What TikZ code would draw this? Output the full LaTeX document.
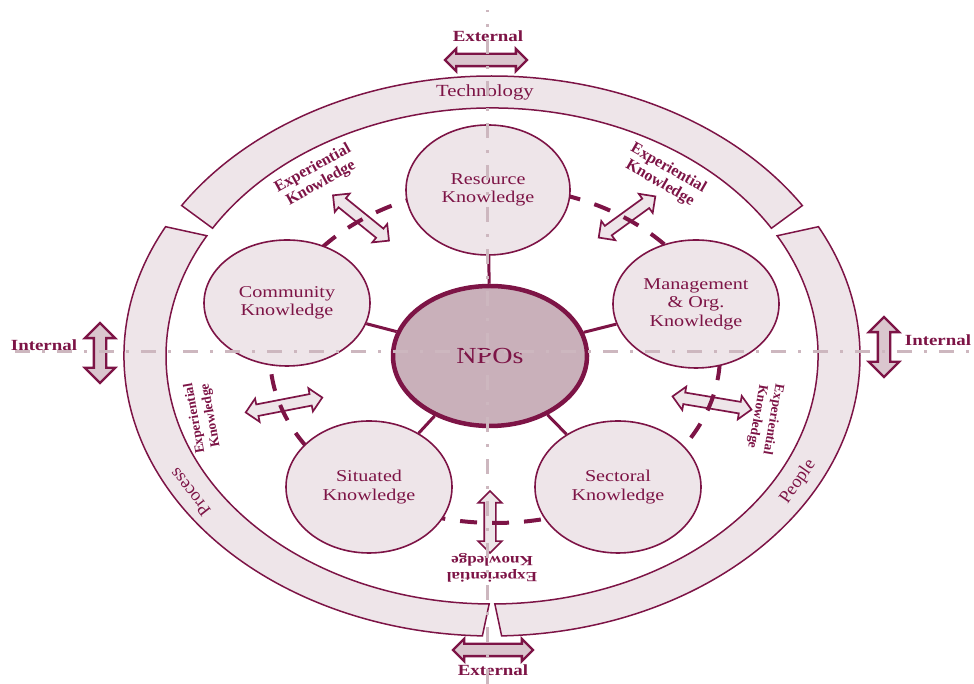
\documentclass[tikz,border=0pt]{standalone}
\usepackage{fontspec}
\setmainfont{Liberation Serif}[FakeStretch=1.22]
\newfontfamily\plainserif{Liberation Serif}
\usetikzlibrary{shapes.geometric,shapes.arrows,calc}
\definecolor{npored}{RGB}{125,20,70}
\definecolor{ringfill}{RGB}{238,229,233}
\definecolor{npofill}{RGB}{201,176,186}
\definecolor{axisgray}{RGB}{205,183,191}
\definecolor{arrowfill}{RGB}{218,198,206}
\begin{document}
\begin{tikzpicture}[x=1pt,y=1pt,
    knode/.style={ellipse, draw=npored, line width=1.6pt, fill=ringfill, text=npored, align=center,
      inner sep=0pt, minimum width=166, minimum height=130, font=\fontsize{16.5}{18.5}\selectfont},
    band/.style={draw=npored, line width=1.5pt, fill=ringfill},
    link/.style={npored, line width=3pt},
    xarrow/.style={double arrow, draw=npored, line width=1.7pt, fill=ringfill,
      inner xsep=0pt, inner ysep=5pt, double arrow head extend=6pt},
    bigarrow/.style={double arrow, draw=npored, line width=2.3pt, fill=arrowfill,
      inner xsep=0pt, inner ysep=5pt},
    explabel/.style={text=npored, align=center, font=\plainserif\fontsize{16}{17}\selectfont\bfseries},
    sidelabel/.style={text=npored, font=\fontsize{15.5}{18}\selectfont\bfseries},
    bandlabel/.style={text=npored, font=\fontsize{17}{20}\selectfont},
    axis/.style={axisgray, line width=3pt, dash pattern=on 15pt off 12pt on 3pt off 12pt}]
  \useasboundingbox (0,0) rectangle (974,684);

  % outer ring: technology, process, people
  \coordinate (c) at (492,328);
  \draw[band] ($(c)+(32.5:368 and 280)$) arc[start angle=32.5,end angle=147.5,x radius=368,y radius=280]
    -- ($(c)+(149:326 and 248)$) arc[start angle=149,end angle=31,x radius=326,y radius=248] -- cycle;
  \draw[band] ($(c)+(152.5:368 and 280)$) arc[start angle=152.5,end angle=268.5,x radius=368,y radius=280]
    -- ($(c)+(269.5:326 and 248)$) arc[start angle=269.5,end angle=151,x radius=326,y radius=248] -- cycle;
  \draw[band] ($(c)+(271.5:368 and 280)$) arc[start angle=271.5,end angle=387.5,x radius=368,y radius=280]
    -- ($(c)+(389:326 and 248)$) arc[start angle=389,end angle=270.5,x radius=326,y radius=248] -- cycle;
  \node[bandlabel] (tech) at (485,592) {Technology};
  \node[bandlabel, rotate=128, font=\plainserif\fontsize{18}{20}\selectfont] (proc) at (190,192) {Process};
  \node[bandlabel, rotate=55, font=\plainserif\fontsize{18}{20}\selectfont] (peop) at (798,202) {People};

  % experiential exchanges
  \node[xarrow, rotate=-39, minimum height=72] (xa1) at (361,466) {};
  \node[xarrow, rotate=36, minimum height=70] (xa2) at (627,467) {};
  \node[xarrow, rotate=11, minimum height=78] (xa3) at (284,279) {};
  \node[xarrow, rotate=-9.5, minimum height=80] (xa4) at (712,281) {};
  \node[xarrow, rotate=90, minimum height=62] (xa5) at (490,162) {};
  \node[explabel, rotate=29] (xl1) at (317,508) {Experiential\\Knowledge};
  \node[explabel, rotate=-30] (xl2) at (664,508) {Experiential\\Knowledge};
  \node[explabel, rotate=100, font=\plainserif\fontsize{13.5}{16}\selectfont\bfseries] (xl3) at (203,267) {Experiential\\Knowledge};
  \node[explabel, rotate=-100, font=\plainserif\fontsize{13.5}{16}\selectfont\bfseries] (xl4) at (765,266) {Experiential\\Knowledge};
  \node[explabel, rotate=180, font=\fontsize{14}{16}\selectfont\bfseries] (xl5) at (492,116) {Experiential\\Knowledge};

  % dashed ring between the knowledge areas
  \draw[npored, line width=4pt, dash pattern=on 17pt off 15pt] (495,329) ellipse[x radius=225, y radius=168];

  \node[knode, minimum width=164] (res) at (488,494) {Resource\\Knowledge};
  \node[knode, minimum height=126] (com) at (287,381) {Community\\Knowledge};
  \node[knode, minimum height=128] (man) at (696,380) {Management\\\& Org.\\Knowledge};
  \node[knode, minimum height=132] (sit) at (369,197) {Situated\\Knowledge};
  \node[knode, minimum height=132] (sec) at (618,197) {Sectoral\\Knowledge};
  \node[knode, minimum width=194, minimum height=140, fill=npofill, line width=4.5pt,
    font=\fontsize{23}{26}\selectfont] (npo) at (490,328) {NPOs};
  \foreach \k in {res,com,man,sit,sec}
    \draw[link] (npo) -- (\k);

  % internal / external
  \node[bigarrow, minimum height=82, double arrow head extend=5pt] (ext1) at (486,624) {};
  \node[bigarrow, minimum height=80, double arrow head extend=5pt] (ext2) at (493,34) {};
  \node[bigarrow, rotate=90, minimum height=60, double arrow head extend=9pt] (int1) at (100,331) {};
  \node[bigarrow, rotate=90, minimum height=60, double arrow head extend=9pt] (int2) at (884,337) {};
  \node[sidelabel] (extl1) at (488,648) {External};
  \node[sidelabel] (extl2) at (493,14) {External};
  \node[sidelabel] (intl1) at (44,339) {Internal};
  \node[sidelabel] (intl2) at (938,344) {Internal};

  \draw[axis] (487,0) -- (487,674);
  \draw[axis] (15,332) -- (974,332);
\end{tikzpicture}
\end{document}
